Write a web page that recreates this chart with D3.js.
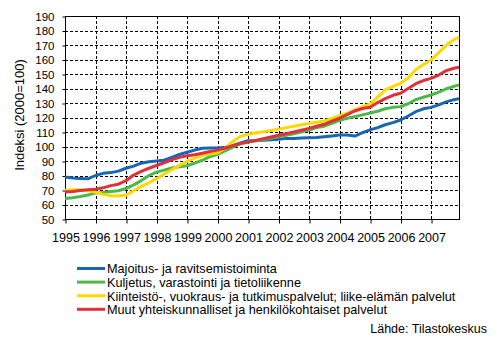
<!DOCTYPE html>
<html><head><meta charset="utf-8">
<script src="https://cdn.jsdelivr.net/npm/d3@7"></script>
<style>
html,body{margin:0;padding:0;background:#fff;}
svg{display:block;font-family:"Liberation Sans",Arial,sans-serif;}
</style></head>
<body>
<svg id="chart" width="497" height="340"></svg>
<script>
// Periods (sampled quarterly, plus last month)
const periods = [
"1995-01","1995-04","1995-07","1995-10","1996-01","1996-04","1996-07","1996-10",
"1997-01","1997-04","1997-07","1997-10","1998-01","1998-04","1998-07","1998-10",
"1999-01","1999-04","1999-07","1999-10","2000-01","2000-04","2000-07","2000-10",
"2001-01","2001-04","2001-07","2001-10","2002-01","2002-04","2002-07","2002-10",
"2003-01","2003-04","2003-07","2003-10","2004-01","2004-04","2004-07","2004-10",
"2005-01","2005-04","2005-07","2005-10","2006-01","2006-04","2006-07","2006-10",
"2007-01","2007-04","2007-07","2007-10","2007-12"];

const seriesNames = [
"Majoitus- ja ravitsemistoiminta",
"Kuljetus, varastointi ja tietoliikenne",
"Kiinteistö-, vuokraus- ja tutkimuspalvelut; liike-elämän palvelut",
"Muut yhteiskunnalliset ja henkilökohtaiset palvelut"];

const majoitus = [79,78.3,78,77.7, 80,81.5,82,83, 85,86.5,88.5,89.5, 90,90.5,92.5,94.5,
 96,97.5,98.8,99, 99,99.5,100.5,102.5, 104,104,104.3,104.6, 105,105.6,105.6,105.8,
 106,106.2,106.7,107.3, 108,108,107.2,109.5, 111.5,113,115,116.5, 118.3,121,124,126,
 127,128.7,130.8,132.3,133];
const kuljetus = [64.2,64.7,65.5,66.5, 68,68.3,69,69.5, 71,73.5,76.5,80, 82.3,83.7,85.2,86,
 86.7,88.5,90.5,93, 94.5,97,99.5,102, 103,104,104.7,105.6, 106.7,107.7,108.8,110,
 111.4,113,114,116, 118,119.5,120.6,121.8, 123,124.3,126,127, 127.5,129.5,132.3,134,
 135.5,137.5,139.8,141.5,142.5];
const kiinteisto = [69.7,70.2,70.2,69.5, 68.6,67,66,65.8, 66.5,69.5,72.5,75, 77.8,81,84,87,
 89.7,92,93.8,94.8, 95.5,99,103.5,107, 108.4,109.3,110.2,111, 112,113,114,115,
 115.8,116.7,117.6,119.3, 121.2,123,125.2,127.5, 129.3,134,139,141.5, 143.6,147.3,153,156.5,
 159.6,164.7,169.8,173.7,175.3];
const muut = [68.6,69,69.7,70.2, 70.6,71.5,73,74, 76.4,80.3,82.8,85, 86.9,88.8,90.8,92.5,
 93.6,94.3,95.4,96.5, 97.5,99,100.5,102, 103,104.2,105.3,106.5, 107.7,108.8,110,111.2,
 112.5,114,115.3,117.5, 119.5,122,124.5,126.2, 127,130.3,133,135.3, 136.7,140,143.3,145.5,
 147,149.3,152.3,154,154.6];

const yearLabels = ["1995","1996","1997","1998","1999","2000","2001","2002","2003","2004","2005","2006","2007"];
const yTicks = [50,60,70,80,90,100,110,120,130,140,150,160,170,180,190];
const colors = ["#1a64b4","#4cb848","#ffd800","#e0303a"];
const yTitle = "Indeksi (2000=100)";
const source = "Lähde: Tilastokeskus";

const svg = d3.select("#chart");
const L = 65, R = 459, T = 16, B = 219;

const monthIndex = p => { const [y,m] = p.split("-").map(Number); return (y-1995)*12 + (m-1); };
const x = d3.scaleLinear().domain([0,155]).range([L,R]);
const y = d3.scaleLinear().domain([50,190]).range([B,T]);

// grid
const g = svg.append("g");
g.selectAll("line.hg").data(yTicks.filter(v=>v>50&&v<190)).join("line")
  .attr("x1",L).attr("x2",R).attr("y1",d=>y(d)+0.5).attr("y2",d=>y(d)+0.5)
  .attr("stroke","#000").attr("stroke-width",1).attr("stroke-dasharray","3,2").attr("shape-rendering","crispEdges");
g.selectAll("line.vg").data(yearLabels.slice(1)).join("line")
  .attr("x1",d=>Math.round(x((+d-1995)*12))+0.5).attr("x2",d=>Math.round(x((+d-1995)*12))+0.5)
  .attr("y1",T).attr("y2",B)
  .attr("stroke","#000").attr("stroke-width",1).attr("stroke-dasharray","3,2").attr("shape-rendering","crispEdges");

// frame
svg.append("rect").attr("x",L+0.5).attr("y",T+0.5).attr("width",R-L).attr("height",B-T)
  .attr("fill","none").attr("stroke","#000").attr("stroke-width",1).attr("shape-rendering","crispEdges");

// y axis
const yAxis = d3.axisLeft(y).tickValues(yTicks).tickSize(3).tickPadding(8).tickFormat(d3.format("d"));
const ya = svg.append("g").attr("transform",`translate(${L+0.5},0.5)`).call(yAxis);
ya.select(".domain").remove();
ya.selectAll("text").attr("font-size",11.5).attr("font-family","'Liberation Sans',Arial,sans-serif").attr("fill","#000");

// x axis
const xAxis = d3.axisBottom(x).tickValues(yearLabels.map(d=>(+d-1995)*12)).tickSize(4).tickPadding(10)
  .tickFormat((d,i)=>yearLabels[i]);
const xa = svg.append("g").attr("transform",`translate(0.5,${B+0.5})`).call(xAxis);
xa.select(".domain").remove();
xa.selectAll("text").attr("font-size",12.5).attr("font-family","'Liberation Sans',Arial,sans-serif").attr("fill","#000");

// y title
svg.append("text").attr("transform","translate(24,115) rotate(-90)")
  .attr("text-anchor","middle").attr("font-size",13).attr("fill","#000").text(yTitle);

// lines
const allSeries = [majoitus,kuljetus,kiinteisto,muut];
const line = d3.line().x((d,i)=>x(monthIndex(periods[i]))).y(d=>y(d));
svg.append("g").selectAll("path").data(allSeries).join("path")
  .attr("d",d=>line(d)).attr("fill","none").attr("stroke",(d,i)=>colors[i])
  .attr("stroke-width",3).attr("stroke-linejoin","round");

// legend
const lg = svg.append("g");
seriesNames.forEach((n,i)=>{
  const cy = 268.5 + i*13.6;
  lg.append("line").attr("x1",77).attr("x2",105).attr("y1",cy).attr("y2",cy)
    .attr("stroke",colors[i]).attr("stroke-width",3);
  lg.append("text").attr("x",107).attr("y",cy+4.8).attr("font-size",12.7).attr("fill","#000").text(n);
});

svg.append("text").attr("x",487).attr("y",333).attr("text-anchor","end")
  .attr("font-size",12.5).attr("fill","#000").text(source);
</script>
</body></html>
